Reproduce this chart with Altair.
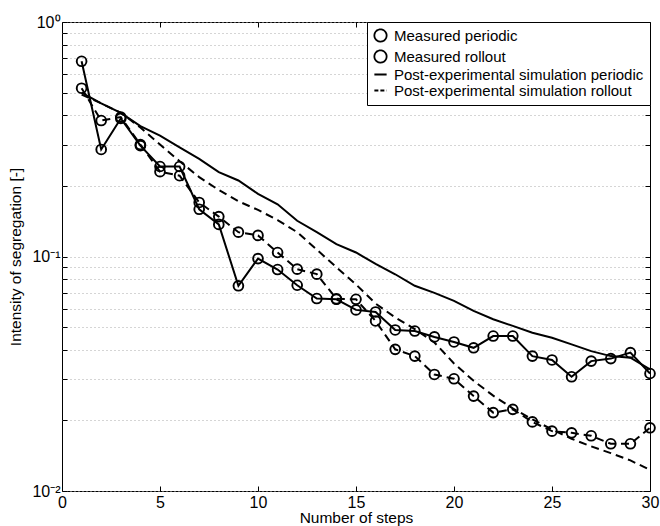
import altair as alt
import pandas as pd

steps = list(range(1, 31))

measured_periodic = [0.68, 0.286, 0.388, 0.297, 0.242, 0.242, 0.159, 0.137, 0.075, 0.098,
                     0.088, 0.0754, 0.0662, 0.0657, 0.0592, 0.058, 0.0486, 0.0481, 0.0454, 0.0432,
                     0.0408, 0.0458, 0.0458, 0.0376, 0.0362, 0.0307, 0.0358, 0.0367, 0.0389, 0.0317]
measured_rollout = [0.522, 0.38, 0.393, 0.30, 0.23, 0.221, 0.170, 0.148, 0.127, 0.123,
                    0.104, 0.0883, 0.0841, 0.066, 0.0657, 0.0531, 0.0402, 0.0376, 0.0314, 0.0301,
                    0.0254, 0.0216, 0.0223, 0.0197, 0.018, 0.0177, 0.0172, 0.0159, 0.0159, 0.0186]
sim_periodic = [0.50, 0.45, 0.41, 0.36, 0.328, 0.292, 0.261, 0.229, 0.211, 0.185,
                0.167, 0.142, 0.127, 0.113, 0.104, 0.093, 0.084, 0.075, 0.070, 0.0647,
                0.0586, 0.054, 0.0506, 0.0473, 0.045, 0.0422, 0.0395, 0.0376, 0.037, 0.033]
sim_rollout = [0.49, 0.45, 0.41, 0.355, 0.30, 0.255, 0.218, 0.192, 0.172, 0.158,
               0.143, 0.127, 0.107, 0.090, 0.076, 0.063, 0.055, 0.049, 0.043, 0.035,
               0.0295, 0.0255, 0.0225, 0.0202, 0.0183, 0.0167, 0.0155, 0.0145, 0.0135, 0.0123]

series_names = ["Measured periodic", "Measured rollout",
                "Post-experimental simulation periodic", "Post-experimental simulation rollout"]

x_ticks = [0, 5, 10, 15, 20, 25, 30]
y_ticks = [0.01, 0.02, 0.03, 0.04, 0.05, 0.06, 0.07, 0.08, 0.09,
           0.1, 0.2, 0.3, 0.4, 0.5, 0.6, 0.7, 0.8, 0.9, 1]

rows = []
for name, vals in zip(series_names, [measured_periodic, measured_rollout, sim_periodic, sim_rollout]):
    for s, v in zip(steps, vals):
        rows.append({"step": s, "value": v, "series": name})
df = pd.DataFrame(rows)

FONT = "Liberation Sans"

x_scale = alt.Scale(domain=[0, 30], nice=False, zero=False)
y_scale = alt.Scale(type="log", domain=[0.01, 1], nice=False)

label_expr = ("datum.value == 1 ? '10⁰' : datum.value == 0.1 ? '10⁻¹' : "
              "datum.value == 0.01 ? '10⁻²' : ''")

solid_lines = alt.Chart(df).transform_filter(
    alt.FieldOneOfPredicate(field="series", oneOf=[series_names[0], series_names[2]])
).mark_line(color="black", strokeWidth=2).encode(
    x=alt.X("step:Q", scale=x_scale,
            axis=alt.Axis(orient="bottom", values=x_ticks, title="Number of steps",
                          tickSize=5, offset=-5, domain=False, grid=False,
                          labelPadding=3, labelFlush=False, titlePadding=0)),
    y=alt.Y("value:Q", scale=y_scale,
            axis=alt.Axis(orient="left", values=y_ticks, labelExpr=label_expr,
                          title="Intensity of segregation [-]",
                          tickSize=5, offset=-5, domain=False, grid=True,
                          gridDash=[1, 3], gridColor="#aaaaaa", gridWidth=1,
                          labelOverlap=False, labelFlush=False, labelPadding=2,
                          titlePadding=8)),
    detail="series:N",
)

dashed_lines = alt.Chart(df).transform_filter(
    alt.FieldOneOfPredicate(field="series", oneOf=[series_names[1], series_names[3]])
).mark_line(color="black", strokeWidth=2, strokeDash=[8, 5]).encode(
    x=alt.X("step:Q", scale=x_scale, axis=None),
    y=alt.Y("value:Q", scale=y_scale, axis=None),
    detail="series:N",
)

points = alt.Chart(df).transform_filter(
    alt.FieldOneOfPredicate(field="series", oneOf=series_names[:2])
).mark_point(shape="circle", filled=False, color="black", size=95, strokeWidth=1.9, opacity=1).encode(
    x=alt.X("step:Q", scale=x_scale,
            axis=alt.Axis(orient="top", values=x_ticks, labels=False, title="",
                          tickSize=5, offset=-5, domain=False, grid=False)),
    y=alt.Y("value:Q", scale=y_scale,
            axis=alt.Axis(orient="right", values=y_ticks, labels=False, title="",
                          tickSize=5, offset=-5, domain=False, grid=False)),
)

legend_props = dict(title=None, orient="top-right", offset=0,
                    symbolSize=150, symbolStrokeWidth=1.8,
                    symbolStrokeColor="black", symbolOpacity=1,
                    labelOffset=6,
                    labelFont=FONT, labelFontSize=15, labelColor="black",
                    labelLimit=400, padding=6, rowPadding=0,
                    strokeColor="black", fillColor="white", cornerRadius=0)

legend_layer = alt.Chart(df).mark_point(
    filled=False, color="black", strokeWidth=1.8, size=0
).encode(
    x=alt.X("step:Q", scale=x_scale, axis=None),
    y=alt.Y("value:Q", scale=y_scale, axis=None),
    shape=alt.Shape("series:N",
                    scale=alt.Scale(domain=series_names,
                                    range=["circle", "circle", "stroke", "stroke"]),
                    legend=alt.Legend(**legend_props)),
    strokeDash=alt.StrokeDash("series:N",
                              scale=alt.Scale(domain=series_names,
                                              range=[[1, 0], [1, 0], [1, 0], [4, 2]]),
                              legend=alt.Legend(**legend_props)),
)

chart = alt.layer(solid_lines, dashed_lines, points, legend_layer).resolve_axis(
    x="independent", y="independent"
).properties(
    width=588, height=469,
    autosize=alt.AutoSizeParams(type="none"),
    padding={"left": 62, "top": 22, "right": 10, "bottom": 35},
    background="white",
).configure_view(
    stroke="black", strokeWidth=1
).configure_axis(
    labelFont=FONT, labelFontSize=16, labelColor="black",
    titleFont=FONT, titleFontSize=15.5, titleColor="black", titleFontWeight="normal",
    tickColor="black", tickWidth=1,
)

chart.save("out.html", embed_options={"renderer": "svg", "actions": False})
